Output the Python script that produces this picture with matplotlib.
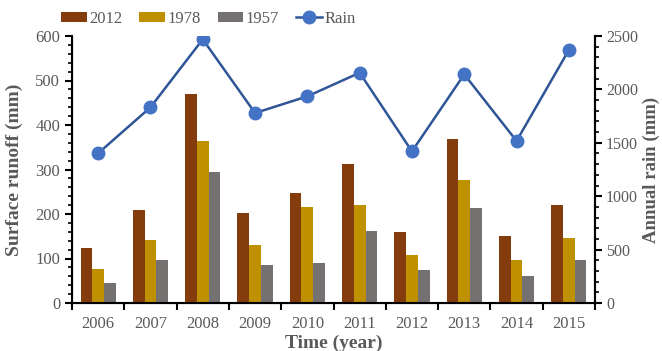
import matplotlib
matplotlib.use("Agg")
import matplotlib.pyplot as plt
import numpy as np
from matplotlib.ticker import MultipleLocator, FixedLocator

years = ["2006", "2007", "2008", "2009", "2010", "2011", "2012", "2013", "2014", "2015"]
runoff_2012 = [123, 210, 469, 202, 248, 312, 160, 368, 151, 220]
runoff_1978 = [76, 142, 364, 131, 215, 221, 108, 276, 96, 145]
runoff_1957 = [46, 96, 294, 85, 91, 162, 74, 213, 61, 96]
rain = [1402, 1832, 2469, 1779, 1935, 2156, 1420, 2141, 1517, 2369]

plt.rcParams['font.family'] = ['Liberation Serif', 'DejaVu Serif']
gray_txt = '#595959'

fig = plt.figure(figsize=(6.62, 3.51), dpi=100)
ax = fig.add_axes([72/662, 48/351, (595-72)/662, (303-36)/351])
x = np.arange(len(years))
w = 0.224
b1 = ax.bar(x - w, runoff_2012, w, color='#843C0C', label='2012')
b2 = ax.bar(x, runoff_1978, w, color='#BF9000', label='1978')
b3 = ax.bar(x + w, runoff_1957, w, color='#767171', label='1957')
ax.set_xlim(-0.5, 9.5)
ax.set_ylim(0, 600)
ax.yaxis.set_major_locator(MultipleLocator(100))
ax.yaxis.set_minor_locator(MultipleLocator(20))
ax.set_xticks(x)
ax.set_xticklabels(years)
ax.xaxis.set_minor_locator(FixedLocator(np.arange(-0.5, 10, 1)))
ax.tick_params(axis='x', which='major', length=0, pad=9, labelsize=12, labelcolor=gray_txt)
ax.tick_params(axis='x', which='minor', length=5, width=1.5, direction='out')
ax.tick_params(axis='y', which='major', length=5, width=1.5, direction='out', labelsize=12, labelcolor=gray_txt)
ax.tick_params(axis='y', which='minor', length=3, width=1.2, direction='out')
ax.spines['top'].set_visible(False)
for s in ['left', 'bottom', 'right']:
    ax.spines[s].set_linewidth(1.5)
ax.set_ylabel('Surface runoff (mm)', fontsize=14, fontweight='bold', color=gray_txt, labelpad=9)
ax.set_xlabel('Time (year)', fontsize=14, fontweight='bold', color=gray_txt, labelpad=2)

ax2 = ax.twinx()
ln, = ax2.plot(x, rain, color='#2F5597', lw=1.8, marker='o', markersize=9,
               markerfacecolor='#4472C4', markeredgecolor='#4472C4', label='Rain')
ax2.set_ylim(0, 2500)
ax2.yaxis.set_major_locator(MultipleLocator(500))
ax2.yaxis.set_minor_locator(MultipleLocator(100))
ax2.tick_params(axis='y', which='major', length=5, width=1.5, direction='out', labelsize=11.5,
                labelcolor=gray_txt, pad=3)
ax2.tick_params(axis='y', which='minor', length=3, width=1.2, direction='out')
ax2.spines['top'].set_visible(False)
ax2.spines['right'].set_linewidth(1.5)
ax2.set_ylabel('Annual rain (mm)', fontsize=13.5, fontweight='bold', color=gray_txt, labelpad=3)

fig.legend([b1, b2, b3, ln], ['2012', '1978', '1957', 'Rain'], loc='center left',
           bbox_to_anchor=(61/662, 1 - 19/351), ncol=4, frameon=False, fontsize=12,
           handlelength=1.55, handleheight=0.6, columnspacing=1.0, handletextpad=0.15,
           labelcolor=gray_txt, borderaxespad=0, borderpad=0)

fig.savefig('out.png', dpi=100)
